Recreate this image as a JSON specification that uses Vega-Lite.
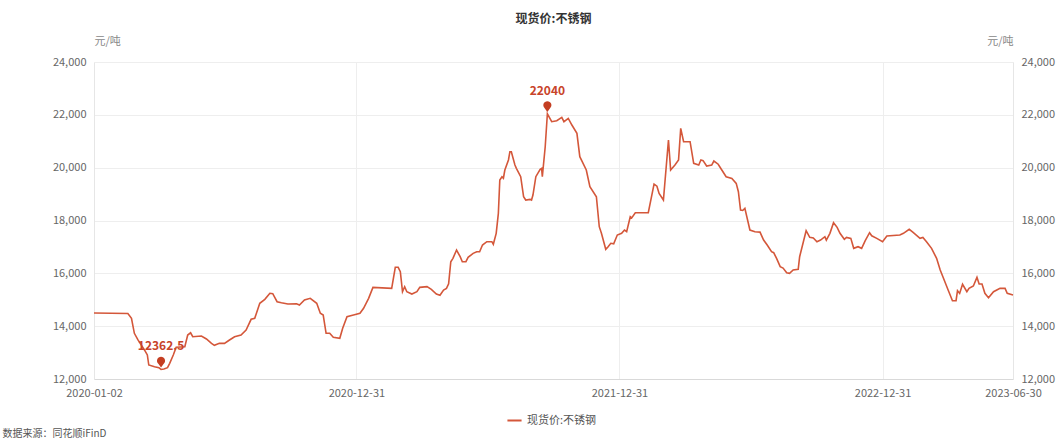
{
  "$schema": "https://vega.github.io/schema/vega-lite/v6.json",
  "width": 919,
  "height": 317,
  "autosize": {"type": "none"},
  "padding": {"left": 94, "top": 62, "right": 46, "bottom": 63},
  "background": "#ffffff",
  "config": {
    "font": "Noto Sans CJK SC",
    "view": {"stroke": null},
    "axis": {"labelFont": "Noto Sans CJK SC", "titleFont": "Noto Sans CJK SC"},
    "legend": {"labelFont": "Noto Sans CJK SC"}
  },
  "title": {
    "text": "现货价:不锈钢",
    "fontSize": 12,
    "fontWeight": "bold",
    "color": "#333333",
    "anchor": "middle",
    "frame": "group",
    "offset": 9
  },
  "datasets": {
    "series": [
      {"date": "2020-01-02", "value": 14500},
      {"date": "2020-02-18", "value": 14480},
      {"date": "2020-02-23", "value": 14300},
      {"date": "2020-02-27", "value": 13730},
      {"date": "2020-03-03", "value": 13480},
      {"date": "2020-03-12", "value": 13100},
      {"date": "2020-03-16", "value": 12910},
      {"date": "2020-03-18", "value": 12530},
      {"date": "2020-03-26", "value": 12466},
      {"date": "2020-04-01", "value": 12430},
      {"date": "2020-04-04", "value": 12362.5},
      {"date": "2020-04-08", "value": 12380},
      {"date": "2020-04-13", "value": 12430},
      {"date": "2020-04-16", "value": 12594},
      {"date": "2020-04-21", "value": 12910},
      {"date": "2020-04-25", "value": 13200},
      {"date": "2020-05-07", "value": 13223},
      {"date": "2020-05-11", "value": 13665},
      {"date": "2020-05-15", "value": 13750},
      {"date": "2020-05-18", "value": 13600},
      {"date": "2020-05-30", "value": 13627},
      {"date": "2020-06-06", "value": 13514},
      {"date": "2020-06-13", "value": 13350},
      {"date": "2020-06-17", "value": 13275},
      {"date": "2020-06-24", "value": 13350},
      {"date": "2020-07-01", "value": 13350},
      {"date": "2020-07-08", "value": 13476},
      {"date": "2020-07-15", "value": 13600},
      {"date": "2020-07-24", "value": 13665},
      {"date": "2020-07-31", "value": 13855},
      {"date": "2020-08-07", "value": 14260},
      {"date": "2020-08-12", "value": 14297},
      {"date": "2020-08-19", "value": 14865},
      {"date": "2020-08-26", "value": 15017},
      {"date": "2020-09-02", "value": 15244},
      {"date": "2020-09-06", "value": 15230},
      {"date": "2020-09-12", "value": 14926},
      {"date": "2020-09-18", "value": 14888},
      {"date": "2020-09-27", "value": 14839},
      {"date": "2020-10-09", "value": 14850},
      {"date": "2020-10-13", "value": 14801},
      {"date": "2020-10-20", "value": 14990},
      {"date": "2020-10-28", "value": 15054},
      {"date": "2020-11-06", "value": 14865},
      {"date": "2020-11-11", "value": 14487},
      {"date": "2020-11-15", "value": 14422},
      {"date": "2020-11-19", "value": 13730},
      {"date": "2020-11-24", "value": 13730},
      {"date": "2020-11-29", "value": 13578},
      {"date": "2020-12-08", "value": 13540},
      {"date": "2020-12-12", "value": 13919},
      {"date": "2020-12-18", "value": 14360},
      {"date": "2020-12-27", "value": 14422},
      {"date": "2021-01-05", "value": 14487},
      {"date": "2021-01-10", "value": 14676},
      {"date": "2021-01-17", "value": 15054},
      {"date": "2021-01-23", "value": 15470},
      {"date": "2021-02-18", "value": 15432},
      {"date": "2021-02-23", "value": 16228},
      {"date": "2021-02-27", "value": 16228},
      {"date": "2021-03-02", "value": 16062},
      {"date": "2021-03-05", "value": 15305},
      {"date": "2021-03-08", "value": 15495},
      {"date": "2021-03-11", "value": 15305},
      {"date": "2021-03-18", "value": 15217},
      {"date": "2021-03-25", "value": 15305},
      {"date": "2021-03-29", "value": 15470},
      {"date": "2021-04-08", "value": 15495},
      {"date": "2021-04-14", "value": 15395},
      {"date": "2021-04-21", "value": 15217},
      {"date": "2021-04-26", "value": 15168},
      {"date": "2021-05-01", "value": 15369},
      {"date": "2021-05-05", "value": 15432},
      {"date": "2021-05-08", "value": 15600},
      {"date": "2021-05-11", "value": 16440},
      {"date": "2021-05-14", "value": 16568},
      {"date": "2021-05-19", "value": 16882},
      {"date": "2021-05-24", "value": 16630},
      {"date": "2021-05-27", "value": 16440},
      {"date": "2021-06-01", "value": 16440},
      {"date": "2021-06-04", "value": 16605},
      {"date": "2021-06-11", "value": 16756},
      {"date": "2021-06-16", "value": 16819},
      {"date": "2021-06-20", "value": 16819},
      {"date": "2021-06-24", "value": 17072},
      {"date": "2021-06-30", "value": 17198},
      {"date": "2021-07-07", "value": 17198},
      {"date": "2021-07-09", "value": 17100},
      {"date": "2021-07-13", "value": 17514},
      {"date": "2021-07-16", "value": 18271},
      {"date": "2021-07-18", "value": 19532},
      {"date": "2021-07-21", "value": 19658},
      {"date": "2021-07-23", "value": 19600},
      {"date": "2021-07-25", "value": 19911},
      {"date": "2021-07-30", "value": 20290},
      {"date": "2021-08-01", "value": 20604},
      {"date": "2021-08-03", "value": 20604},
      {"date": "2021-08-08", "value": 20100},
      {"date": "2021-08-10", "value": 19975},
      {"date": "2021-08-16", "value": 19658},
      {"date": "2021-08-20", "value": 18900},
      {"date": "2021-08-23", "value": 18775},
      {"date": "2021-08-29", "value": 18800},
      {"date": "2021-08-31", "value": 18775},
      {"date": "2021-09-02", "value": 18964},
      {"date": "2021-09-06", "value": 19658},
      {"date": "2021-09-12", "value": 19936},
      {"date": "2021-09-14", "value": 19970},
      {"date": "2021-09-15", "value": 19658},
      {"date": "2021-09-19", "value": 20793},
      {"date": "2021-09-22", "value": 22040},
      {"date": "2021-09-28", "value": 21740},
      {"date": "2021-10-05", "value": 21778},
      {"date": "2021-10-12", "value": 21905},
      {"date": "2021-10-15", "value": 21740},
      {"date": "2021-10-21", "value": 21867},
      {"date": "2021-10-26", "value": 21614},
      {"date": "2021-11-02", "value": 21300},
      {"date": "2021-11-06", "value": 20415},
      {"date": "2021-11-15", "value": 19911},
      {"date": "2021-11-20", "value": 19280},
      {"date": "2021-11-29", "value": 18900},
      {"date": "2021-12-03", "value": 17765},
      {"date": "2021-12-06", "value": 17514},
      {"date": "2021-12-12", "value": 16909},
      {"date": "2021-12-15", "value": 17000},
      {"date": "2021-12-19", "value": 17136},
      {"date": "2021-12-23", "value": 17120},
      {"date": "2021-12-28", "value": 17450},
      {"date": "2022-01-03", "value": 17514},
      {"date": "2022-01-07", "value": 17640},
      {"date": "2022-01-10", "value": 17580},
      {"date": "2022-01-15", "value": 18143},
      {"date": "2022-01-17", "value": 18100},
      {"date": "2022-01-22", "value": 18295},
      {"date": "2022-02-09", "value": 18295},
      {"date": "2022-02-17", "value": 19380},
      {"date": "2022-02-21", "value": 19300},
      {"date": "2022-02-24", "value": 19027},
      {"date": "2022-03-02", "value": 18775},
      {"date": "2022-03-09", "value": 21046},
      {"date": "2022-03-12", "value": 19911},
      {"date": "2022-03-18", "value": 20100},
      {"date": "2022-03-23", "value": 20290},
      {"date": "2022-03-26", "value": 21489},
      {"date": "2022-03-30", "value": 20982},
      {"date": "2022-04-08", "value": 20982},
      {"date": "2022-04-13", "value": 20164},
      {"date": "2022-04-20", "value": 20100},
      {"date": "2022-04-23", "value": 20290},
      {"date": "2022-04-26", "value": 20265},
      {"date": "2022-05-01", "value": 20062},
      {"date": "2022-05-08", "value": 20100},
      {"date": "2022-05-11", "value": 20252},
      {"date": "2022-05-17", "value": 20130},
      {"date": "2022-05-22", "value": 19911},
      {"date": "2022-05-28", "value": 19658},
      {"date": "2022-06-05", "value": 19595},
      {"date": "2022-06-11", "value": 19406},
      {"date": "2022-06-14", "value": 19090},
      {"date": "2022-06-17", "value": 18397},
      {"date": "2022-06-20", "value": 18380},
      {"date": "2022-06-23", "value": 18460},
      {"date": "2022-06-30", "value": 17640},
      {"date": "2022-07-07", "value": 17577},
      {"date": "2022-07-14", "value": 17560},
      {"date": "2022-07-19", "value": 17261},
      {"date": "2022-07-24", "value": 17072},
      {"date": "2022-07-30", "value": 16819},
      {"date": "2022-08-02", "value": 16780},
      {"date": "2022-08-06", "value": 16567},
      {"date": "2022-08-11", "value": 16252},
      {"date": "2022-08-15", "value": 16200},
      {"date": "2022-08-20", "value": 16024},
      {"date": "2022-08-24", "value": 16000},
      {"date": "2022-08-29", "value": 16126},
      {"date": "2022-09-05", "value": 16151},
      {"date": "2022-09-07", "value": 16630},
      {"date": "2022-09-16", "value": 17614},
      {"date": "2022-09-21", "value": 17362},
      {"date": "2022-09-26", "value": 17340},
      {"date": "2022-10-01", "value": 17198},
      {"date": "2022-10-06", "value": 17260},
      {"date": "2022-10-12", "value": 17387},
      {"date": "2022-10-14", "value": 17260},
      {"date": "2022-10-19", "value": 17514},
      {"date": "2022-10-24", "value": 17917},
      {"date": "2022-10-29", "value": 17741},
      {"date": "2022-11-02", "value": 17514},
      {"date": "2022-11-08", "value": 17287},
      {"date": "2022-11-11", "value": 17360},
      {"date": "2022-11-17", "value": 17324},
      {"date": "2022-11-21", "value": 16946},
      {"date": "2022-11-27", "value": 17009},
      {"date": "2022-12-02", "value": 16946},
      {"date": "2022-12-07", "value": 17235},
      {"date": "2022-12-13", "value": 17538},
      {"date": "2022-12-16", "value": 17420},
      {"date": "2022-12-23", "value": 17324},
      {"date": "2022-12-31", "value": 17198},
      {"date": "2023-01-06", "value": 17413},
      {"date": "2023-01-24", "value": 17450},
      {"date": "2023-01-29", "value": 17514},
      {"date": "2023-02-06", "value": 17665},
      {"date": "2023-02-11", "value": 17560},
      {"date": "2023-02-21", "value": 17324},
      {"date": "2023-02-25", "value": 17360},
      {"date": "2023-03-02", "value": 17198},
      {"date": "2023-03-09", "value": 16946},
      {"date": "2023-03-16", "value": 16567},
      {"date": "2023-03-21", "value": 16126},
      {"date": "2023-03-25", "value": 15849},
      {"date": "2023-04-01", "value": 15369},
      {"date": "2023-04-07", "value": 14964},
      {"date": "2023-04-12", "value": 14964},
      {"date": "2023-04-14", "value": 15344},
      {"date": "2023-04-17", "value": 15240},
      {"date": "2023-04-21", "value": 15584},
      {"date": "2023-04-27", "value": 15305},
      {"date": "2023-04-30", "value": 15430},
      {"date": "2023-05-06", "value": 15520},
      {"date": "2023-05-11", "value": 15849},
      {"date": "2023-05-14", "value": 15596},
      {"date": "2023-05-18", "value": 15596},
      {"date": "2023-05-22", "value": 15244},
      {"date": "2023-05-27", "value": 15078},
      {"date": "2023-06-03", "value": 15305},
      {"date": "2023-06-12", "value": 15432},
      {"date": "2023-06-19", "value": 15432},
      {"date": "2023-06-22", "value": 15244},
      {"date": "2023-06-30", "value": 15180}
    ],
    "marks": [
      {"date": "2021-09-22", "value": 22040, "label": "22040"},
      {"date": "2020-04-04", "value": 12362.5, "label": "12362.5"}
    ]
  },
  "encoding": {
    "x": {
      "field": "date",
      "type": "temporal",
      "scale": {
        "type": "utc",
        "domain": [
          {"year": 2020, "month": 1, "date": 2, "utc": true},
          {"year": 2023, "month": 6, "date": 30, "utc": true}
        ],
        "nice": false
      },
      "axis": {
        "values": [
          {"year": 2020, "month": 1, "date": 2, "utc": true},
          {"year": 2020, "month": 12, "date": 31, "utc": true},
          {"year": 2021, "month": 12, "date": 31, "utc": true},
          {"year": 2022, "month": 12, "date": 31, "utc": true},
          {"year": 2023, "month": 6, "date": 30, "utc": true}
        ],
        "labelExpr": "utcFormat(datum.value, '%Y-%m-%d')",
        "labelFlush": false,
        "labelOverlap": false,
        "labelColor": "#666666",
        "labelFontSize": 11,
        "labelPadding": 8,
        "ticks": false,
        "domainColor": "#d9d9d9",
        "grid": true,
        "gridColor": "#eeeeee",
        "title": "数据来源：同花顺iFinD",
        "titleX": -92,
        "titleY": 54,
        "titleAlign": "left",
        "titleBaseline": "middle",
        "titleFontSize": 10,
        "titleFontWeight": "normal",
        "titleColor": "#555555"
      }
    }
  },
  "layer": [
    {
      "data": {"name": "series"},
      "mark": {"type": "line", "strokeWidth": 1.6, "interpolate": "linear"},
      "encoding": {
        "y": {
          "field": "value",
          "type": "quantitative",
          "scale": {"domain": [12000, 24000], "nice": false, "zero": false},
          "axis": {
            "orient": "left",
            "values": [12000, 14000, 16000, 18000, 20000, 22000, 24000],
            "format": ",d",
            "labelColor": "#666666",
            "labelFontSize": 11,
            "labelPadding": 8,
            "ticks": false,
            "domainColor": "#e6e6e6",
            "grid": true,
            "gridColor": "#eeeeee",
            "title": "元/吨",
            "titleAngle": 0,
            "titleX": 0,
            "titleY": -21,
            "titleAlign": "left",
            "titleBaseline": "middle",
            "titleFontSize": 11,
            "titleFontWeight": "normal",
            "titleColor": "#888888"
          }
        },
        "color": {
          "datum": "现货价:不锈钢",
          "type": "nominal",
          "scale": {"range": ["#d4573a"]},
          "legend": {
            "orient": "none",
            "legendX": 412,
            "legendY": 350,
            "title": null,
            "symbolType": "stroke",
            "symbolStrokeWidth": 2,
            "symbolSize": 200,
            "labelColor": "#555555",
            "labelFontSize": 11,
            "direction": "horizontal"
          }
        }
      }
    },
    {
      "data": {"name": "marks"},
      "mark": {
        "type": "point",
        "shape": "M0,-0.2 L-0.28,-0.6 A0.45,0.45 0 1 1 0.28,-0.6 Z",
        "size": 324,
        "filled": true,
        "color": "#c43e22",
        "opacity": 1
      },
      "encoding": {
        "y": {
          "field": "value",
          "type": "quantitative",
          "axis": {
            "orient": "right",
            "values": [12000, 14000, 16000, 18000, 20000, 22000, 24000],
            "format": ",d",
            "labelColor": "#666666",
            "labelFontSize": 11,
            "labelPadding": 8,
            "ticks": false,
            "domainColor": "#e6e6e6",
            "grid": false,
            "title": "元/吨",
            "titleAngle": 0,
            "titleX": 0,
            "titleY": -21,
            "titleAlign": "right",
            "titleBaseline": "middle",
            "titleFontSize": 11,
            "titleFontWeight": "normal",
            "titleColor": "#888888"
          }
        }
      }
    },
    {
      "data": {"name": "marks"},
      "mark": {
        "type": "text",
        "dy": -23,
        "fontSize": 12,
        "fontWeight": "bold",
        "color": "#c8442a",
        "baseline": "middle",
        "align": "center"
      },
      "encoding": {
        "y": {"field": "value", "type": "quantitative", "axis": null},
        "text": {"field": "label", "type": "nominal"}
      }
    }
  ],
  "resolve": {"scale": {"y": "shared"}, "axis": {"y": "independent"}}
}
